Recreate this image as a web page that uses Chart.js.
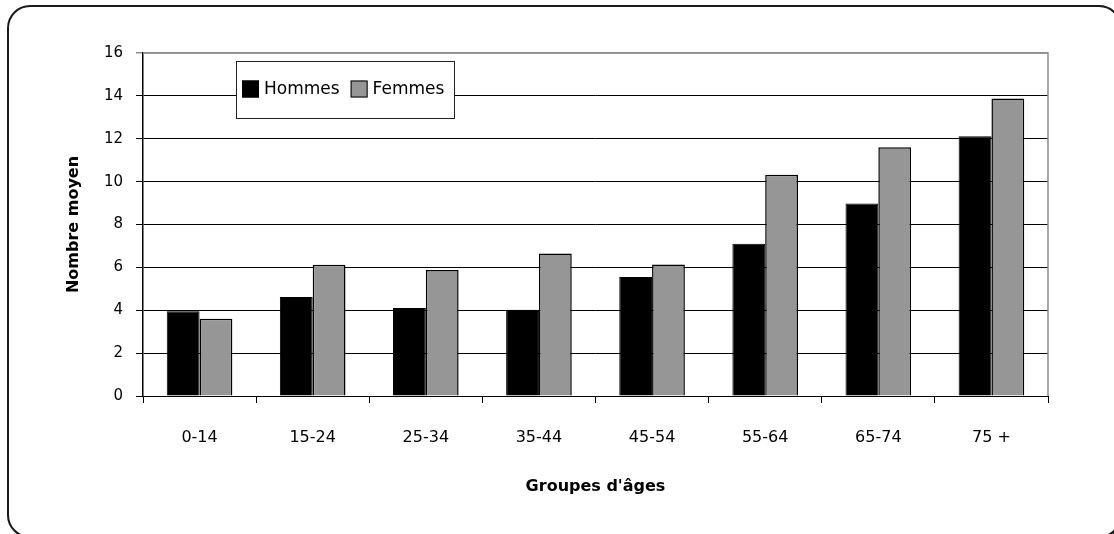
<!DOCTYPE html>
<html lang="fr">
<head>
<meta charset="utf-8">
<title>Nombre moyen par groupe d'âges</title>
<script src="https://cdn.jsdelivr.net/npm/chart.js@4/dist/chart.umd.min.js"></script>
<style>
  html, body { margin: 0; padding: 0; background: #fff; }
  #wrap { position: relative; width: 1114px; height: 534px; overflow: hidden; }
  #frame {
    position: absolute; left: 7px; top: 5px; width: 1111px; height: 529px;
    border: 2px solid #1a1a1a; border-radius: 23px;
    box-shadow: 3px 3px 0 #000; pointer-events: none;
  }
  canvas { position: absolute; left: 0; top: 0; }
</style>
</head>
<body>
<div id="wrap">
  <div id="frame"></div>
  <canvas id="chart" width="1114" height="534"></canvas>
</div>
<script>
// Groupes d'âges et nombre moyen par sexe
const categories = ['0-14', '15-24', '25-34', '35-44', '45-54', '55-64', '65-74', '75 +'];
const hommes = [3.95, 4.62, 4.1, 4.02, 5.55, 7.1, 8.98, 12.12];
const femmes = [3.6, 6.12, 5.88, 6.65, 6.13, 10.32, 11.6, 13.88];
const yTicks = [0, 2, 4, 6, 8, 10, 12, 14, 16];

const FONT = "'DejaVu Sans', Verdana, sans-serif";

// Cadre gris du haut et de droite de la zone de tracé
const plotBorder = {
  id: 'plotBorder',
  afterDraw(chart) {
    const { ctx, chartArea: a } = chart;
    ctx.save();
    ctx.strokeStyle = '#8c8c8c';
    ctx.lineWidth = 1.5;
    ctx.beginPath();
    ctx.moveTo(a.left, a.top);
    ctx.lineTo(a.right, a.top);
    ctx.lineTo(a.right, a.bottom);
    ctx.stroke();
    ctx.restore();
  }
};

// Légende encadrée dans le coin supérieur gauche du graphique
const boxedLegend = {
  id: 'boxedLegend',
  afterDraw(chart) {
    const { ctx } = chart;
    const box = { x: 236, y: 61, w: 218, h: 57 };
    ctx.save();
    ctx.fillStyle = '#fff';
    ctx.fillRect(box.x, box.y, box.w, box.h);
    ctx.strokeStyle = '#222';
    ctx.lineWidth = 1;
    ctx.strokeRect(box.x + 0.5, box.y + 0.5, box.w, box.h);
    ctx.font = '17px ' + FONT;
    ctx.textBaseline = 'middle';
    let x = 242;
    const cy = 89;
    chart.data.datasets.forEach(ds => {
      ctx.fillStyle = ds.backgroundColor;
      ctx.fillRect(x, cy - 8.5, 17, 17);
      ctx.strokeStyle = '#000';
      ctx.strokeRect(x + 0.5, cy - 8, 16, 16);
      x += 22;
      ctx.fillStyle = '#000';
      ctx.fillText(ds.label, x, cy + 1);
      x += ctx.measureText(ds.label).width + 11;
    });
    ctx.restore();
  }
};

new Chart(document.getElementById('chart'), {
  type: 'bar',
  data: {
    labels: categories,
    datasets: [
      { label: 'Hommes', data: hommes, backgroundColor: '#000000', borderColor: '#000', borderWidth: 1 },
      { label: 'Femmes', data: femmes, backgroundColor: '#969696', borderColor: '#000', borderWidth: 1.5 }
    ]
  },
  options: {
    responsive: false,
    animation: false,
    devicePixelRatio: 1,
    layout: { padding: { left: 0, top: 53, right: 66, bottom: 0 } },
    datasets: { bar: { categoryPercentage: 0.58, barPercentage: 1.0 } },
    plugins: { legend: { display: false }, tooltip: { enabled: false } },
    scales: {
      x: {
        offset: true,
        grid: { offset: true, drawOnChartArea: false, drawTicks: true, tickLength: 7, color: '#000', lineWidth: 1 },
        border: { color: '#000', width: 1 },
        ticks: { color: '#000', font: { family: FONT, size: 16 }, padding: 25, maxRotation: 0 },
        title: { display: true, text: "Groupes d'âges", color: '#000', font: { family: FONT, size: 16, weight: 'bold' }, padding: { top: 0, bottom: 38 } },
        afterFit(scale) { scale.height = 138; }
      },
      y: {
        min: 0, max: 16,
        afterBuildTicks(scale) { scale.ticks = yTicks.map(v => ({ value: v })); },
        grid: {
          color: c => (c.tick && c.tick.value === 16 ? '#8c8c8c' : '#000'),
          lineWidth: c => (c.tick && c.tick.value === 16 ? 1.5 : 1),
          tickLength: 7, drawTicks: true
        },
        border: { color: '#000', width: 1.5 },
        ticks: { color: '#000', font: { family: FONT, size: 15 }, padding: 13 },
        title: { display: true, text: 'Nombre moyen', color: '#000', font: { family: FONT, size: 16, weight: 'bold' }, padding: { top: 64, bottom: 0 } },
        afterFit(scale) { scale.width = 143; }
      }
    }
  },
  plugins: [plotBorder, boxedLegend]
});
</script>
</body>
</html>
